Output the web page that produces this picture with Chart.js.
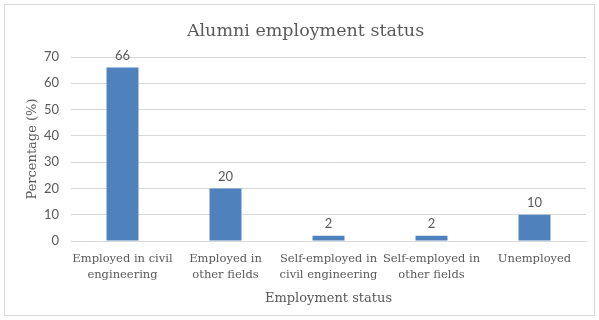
<!DOCTYPE html>
<html>
<head>
<meta charset="utf-8">
<script src="https://cdn.jsdelivr.net/npm/chart.js@4/dist/chart.umd.min.js"></script>
<style>
  html, body { margin: 0; padding: 0; background: #fff; }
  #frame {
    position: absolute; left: 4px; top: 4px;
    width: 589px; height: 310px;
    border: 1px solid #d9d9d9;
  }
  canvas { position: absolute; left: -5px; top: -5px; }
</style>
</head>
<body>
<div id="frame"><canvas id="chart" width="599" height="320"></canvas></div>
<script>
// ===== DATA =====
const categories = [
  ["Employed in civil", "engineering"],
  ["Employed in", "other fields"],
  ["Self-employed in", "civil engineering"],
  ["Self-employed in", "other fields"],
  "Unemployed"
];
const percentages = [66, 20, 2, 2, 10];
const yTicks = [0, 10, 20, 30, 40, 50, 60, 70];

const TEXT = "#595959";
const BAR  = "#4f81bd";
const GRID = "#d9d9d9";

// draws the number above each bar
const valueLabels = {
  id: "valueLabels",
  afterDatasetsDraw(chart) {
    const ctx  = chart.ctx;
    const meta = chart.getDatasetMeta(0);
    ctx.save();
    ctx.fillStyle = TEXT;
    ctx.font = "13px Lato";
    ctx.textAlign = "center";
    ctx.textBaseline = "bottom";
    meta.data.forEach((bar, i) => {
      ctx.fillText(String(percentages[i]), bar.x, bar.y - 5);
    });
    ctx.restore();
  }
};

new Chart(document.getElementById("chart"), {
  type: "bar",
  data: {
    labels: categories,
    datasets: [{
      data: percentages,
      backgroundColor: BAR,
      borderWidth: 0,
      categoryPercentage: 1,
      barPercentage: 0.31
    }]
  },
  options: {
    responsive: false,
    animation: false,
    layout: { padding: { left: 25, right: 13, top: 12, bottom: 14 } },
    plugins: {
      legend: { display: false },
      tooltip: { enabled: false },
      title: {
        display: true,
        text: "Alumni employment status",
        color: TEXT,
        font: { family: "DejaVu Serif", size: 17.5, weight: "normal" },
        padding: { top: 9, bottom: 15 }
      }
    },
    scales: {
      x: {
        // invisible tick marks keep the labels clear of the axis line
        grid: { display: false, drawTicks: true, tickLength: 10 },
        border: { color: GRID },
        afterFit: axis => { axis.height = 65; },
        ticks: {
          color: TEXT,
          maxRotation: 0,
          autoSkip: false,
          padding: 0,
          font: { family: "DejaVu Serif", size: 11.5, lineHeight: "16px" }
        },
        title: {
          display: true,
          text: "Employment status",
          color: TEXT,
          font: { family: "DejaVu Serif", size: 13 },
          padding: { top: 0, bottom: 0 }
        }
      },
      y: {
        min: 0,
        max: 70,
        afterBuildTicks: axis => { axis.ticks = yTicks.map(v => ({ value: v })); },
        afterFit: axis => { axis.width = 46; },
        grid: { color: GRID, drawTicks: false },
        border: { display: false },
        ticks: {
          color: TEXT,
          padding: 12,
          font: { family: "Lato", size: 13 }
        },
        title: {
          display: true,
          text: "Percentage (%)",
          color: TEXT,
          font: { family: "DejaVu Serif", size: 13 },
          padding: { top: 0, bottom: 3 }
        }
      }
    }
  },
  plugins: [valueLabels]
});
</script>
</body>
</html>
